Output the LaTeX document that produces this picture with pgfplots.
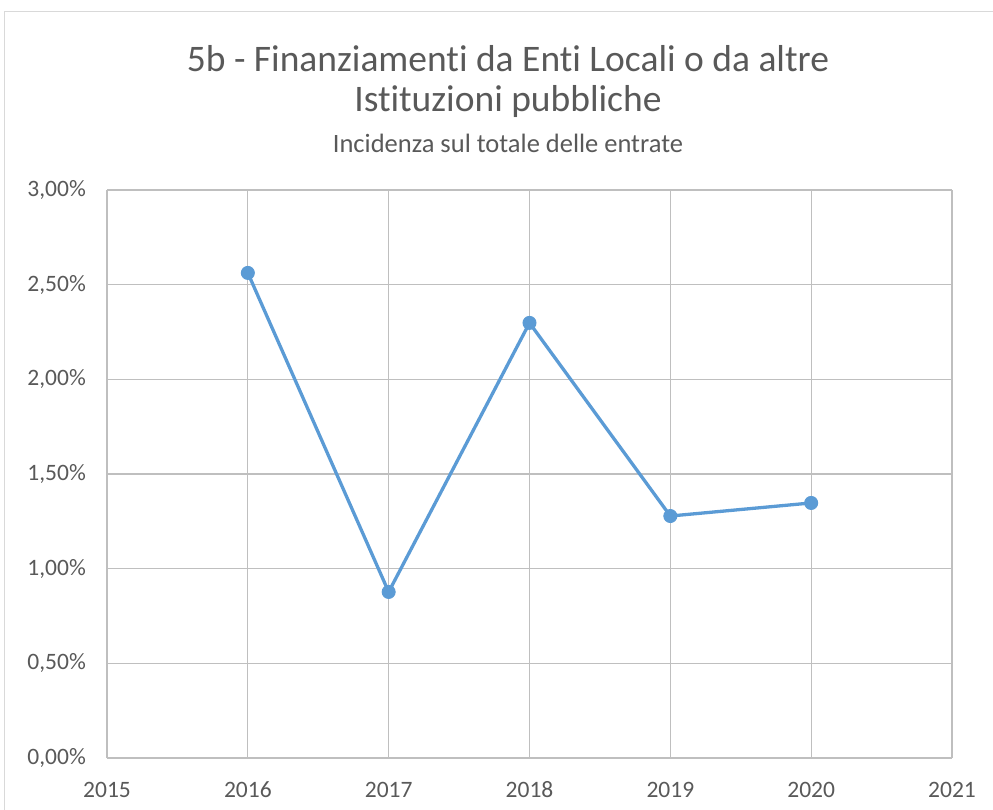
\documentclass[border=0pt]{standalone}
\usepackage{pgfplots}
\pgfplotsset{compat=1.18}
\usepackage{fontspec}
\setmainfont{Carlito}[Ligatures=NoCommon]
\definecolor{txt}{HTML}{595959}
\definecolor{grid}{HTML}{D9D9D9}
\definecolor{ser}{HTML}{5B9BD5}
\definecolor{frame}{HTML}{D9D9D9}
\begin{document}
\begin{tikzpicture}[x=1bp,y=1bp]
\path[use as bounding box] (0,0) rectangle (993,810);
\draw[frame, line width=1bp] (4,0) -- (4,798) -- (993,798);
\node[txt, font=\fontsize{37.5bp}{44bp}\selectfont] at (508,751) {5b - Finanziamenti da Enti Locali o da altre};
\node[txt, font=\fontsize{37.5bp}{44bp}\selectfont] at (508,708) {Istituzioni pubbliche};
\node[txt, font=\fontsize{26.5bp}{31bp}\selectfont] at (508,667) {Incidenza sul totale delle entrate};
\begin{axis}[
  at={(107bp,52bp)}, anchor=south west,
  width=845bp, height=568bp, scale only axis,
  xmin=2015, xmax=2021, ymin=0, ymax=0.03,
  xtick={2015,2016,2017,2018,2019,2020,2021},
  xticklabels={2015,2016,2017,2018,2019,2020,2021},
  ytick={0,0.005,0.01,0.015,0.02,0.025,0.03},
  yticklabels={{0,00\%},{0,50\%},{1,00\%},{1,50\%},{2,00\%},{2,50\%},{3,00\%}},
  scaled y ticks=false,
  grid=major,
  major grid style={grid, line width=1.2bp},
  major tick length=0pt,
  axis line style={draw=none},
  ticklabel style={txt, font=\fontsize{23.5bp}{28bp}\selectfont, inner sep=0pt},
  yticklabel style={anchor=east, xshift=-21bp},
  xticklabel style={anchor=base, yshift=-40bp},
  clip=false,
]
\draw[color=black!25, line width=1.2bp] (axis cs:2015,0) -- (axis cs:2021,0);
\addplot[ser, line width=3.3bp, mark=*, mark size=6.5bp, mark options={fill=ser, draw=ser, line width=1bp}]
coordinates {(2016,0.02562) (2017,0.00877) (2018,0.02298) (2019,0.01278) (2020,0.01347)};
\end{axis}
\end{tikzpicture}
\end{document}
